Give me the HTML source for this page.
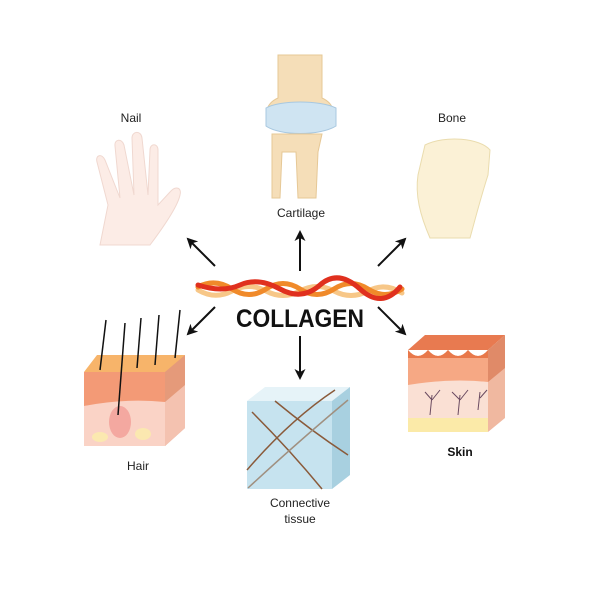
<!DOCTYPE html>
<html><head><style>
body{margin:0;background:#fff;}
svg{display:block;font-family:"Liberation Sans",sans-serif;}
</style></head><body>
<svg width="600" height="600" viewBox="0 0 600 600">
<defs>
<marker id="ah" markerWidth="11" markerHeight="11" refX="9" refY="5.5" orient="auto" markerUnits="userSpaceOnUse"><path d="M0,0 L11,5.5 L0,11 L3,5.5 Z" fill="#111"/></marker>
</defs>
<rect width="600" height="600" fill="#fff"/>
<!-- hand -->
<g fill="#fcece6" stroke="#f0d8d0" stroke-width="1">
<path d="M100,245 L150,245 C165,225 178,205 180,195 C182,188 176,185 170,192 L158,205 L158,150 C158,143 150,143 150,150 L148,195 L142,138 C141,130 132,131 132,138 L134,195 L124,145 C122,138 114,139 115,146 L120,198 L105,160 C102,153 95,155 97,162 L108,205 Z"/>
</g>
<text x="131" y="122" font-size="12" text-anchor="middle" fill="#222">Nail</text>
<!-- knee -->
<g>
<path d="M278,55 L322,55 L322,98 C336,104 338,120 325,126 L275,126 C262,120 264,104 278,98 Z" fill="#f5deb8" stroke="#e6c896"/>
<path d="M266,108 C280,100 320,100 336,108 L336,126 C320,136 280,136 266,126 Z" fill="#cfe4f2" stroke="#a8c8e0"/>
<path d="M272,134 L322,134 L318,152 L316,198 L298,198 L296,152 L282,152 L280,198 L272,198 Z" fill="#f5deb8" stroke="#e6c896"/>
</g>
<text x="301" y="217" font-size="12" text-anchor="middle" fill="#222">Cartilage</text>
<!-- foot -->
<path d="M425,145 C445,135 480,138 490,150 L488,175 C480,200 475,220 470,238 L430,238 C420,215 415,195 418,175 Z" fill="#fbf1d6" stroke="#eadcae"/>
<text x="452" y="122" font-size="12" text-anchor="middle" fill="#222">Bone</text>
<!-- collagen braid -->
<g fill="none" stroke-width="5" stroke-linecap="round">
<path d="M198,290 Q215,300 232,291 T266,291 T300,291 T334,291 T368,291 T402,293" stroke="#f7c788"/>
<path d="M198,287 Q215,278 232,289 T266,289 T300,289 T334,289 T368,289 T402,289" stroke="#f08a2a"/>
<path d="M198,285 Q222,293 240,285 T280,289 T320,285 T360,289 T400,287" stroke="#e0301e"/>
</g>
<text x="300" y="327" font-size="25" font-weight="bold" text-anchor="middle" fill="#111" textLength="128" lengthAdjust="spacingAndGlyphs">COLLAGEN</text>
<!-- arrows -->
<g stroke="#111" stroke-width="2" marker-end="url(#ah)">
<line x1="300" y1="271" x2="300" y2="232"/>
<line x1="215" y1="266" x2="188" y2="239"/>
<line x1="378" y1="266" x2="405" y2="239"/>
<line x1="215" y1="307" x2="188" y2="334"/>
<line x1="378" y1="307" x2="405" y2="334"/>
<line x1="300" y1="336" x2="300" y2="378"/>
</g>
<!-- hair block -->
<g>
<path d="M84,372 L97,355 L185,355 L172,372 Z" fill="#f7b46a"/>
<path d="M84,372 L165,372 L165,402 L84,406 Z" fill="#f39a76"/>
<path d="M84,406 Q125,398 165,402 L165,446 L84,446 Z" fill="#fad3c6"/>
<path d="M165,372 L185,355 L185,428 L165,446 Z" fill="#e59a7a"/>
<path d="M185,385 L165,402 L165,446 L185,428 Z" fill="#f4c2b0"/>
<ellipse cx="120" cy="422" rx="11" ry="16" fill="#f4a8a0"/>
<ellipse cx="100" cy="437" rx="8" ry="5" fill="#fbe8b0"/>
<ellipse cx="143" cy="434" rx="8" ry="6" fill="#fbe8b0"/>
<g stroke="#111" stroke-width="1.5">
<line x1="118" y1="415" x2="125" y2="323"/><line x1="100" y1="370" x2="106" y2="320"/>
<line x1="137" y1="368" x2="141" y2="318"/><line x1="155" y1="365" x2="159" y2="315"/>
<line x1="175" y1="358" x2="180" y2="310"/>
</g>
</g>
<text x="138" y="470" font-size="12" text-anchor="middle" fill="#222">Hair</text>
<!-- connective cube -->
<path d="M247,401 L265,387 L350,387 L332,401 Z" fill="#e6f3f8"/>
<rect x="247" y="401" width="85" height="88" fill="#c6e3ef"/>
<path d="M332,401 L350,387 L350,475 L332,489 Z" fill="#a8d0e0"/>
<g stroke="#8a5a3a" stroke-width="1.5" fill="none">
<path d="M252,412 Q290,450 322,489"/><path d="M247,470 Q290,420 335,390"/>
<path d="M275,401 Q310,430 348,455"/><path d="M248,488 Q300,440 348,400" stroke="#a09080"/>
</g>
<text x="300" y="507" font-size="12" text-anchor="middle" fill="#222">Connective</text>
<text x="300" y="523" font-size="12" text-anchor="middle" fill="#222">tissue</text>
<!-- skin block -->
<g>
<path d="M408,350 L425,335 L505,335 L488,350 Z" fill="#e87a50"/>
<path d="M408,350 Q418,362 428,350 Q438,362 448,350 Q458,362 468,350 Q478,362 488,350 L488,385 L408,385 Z" fill="#f6a884"/>
<path d="M408,350 Q418,362 428,350 Q438,362 448,350 Q458,362 468,350 Q478,362 488,350 L488,358 L408,358 Z" fill="#e8784a"/>
<path d="M408,385 Q450,378 488,382 L488,418 L408,418 Z" fill="#fae0d4"/>
<rect x="408" y="418" width="80" height="14" fill="#fbeaa8"/>
<path d="M488,350 L505,335 L505,418 L488,432 Z" fill="#f0b8a0"/>
<path d="M488,350 L505,335 L505,368 L488,382 Z" fill="#e08a68"/>
<g stroke="#6a4a60" stroke-width="1" fill="none">
<path d="M430,415 L432,395 M432,400 L425,392 M432,400 L440,390"/>
<path d="M458,415 L460,395 M460,400 L452,392 M460,400 L468,390"/>
<path d="M478,410 L480,392 M480,398 L487,390"/>
</g>
</g>
<text x="460" y="456" font-size="12" font-weight="bold" text-anchor="middle" fill="#111">Skin</text>
</svg>
</body></html>
